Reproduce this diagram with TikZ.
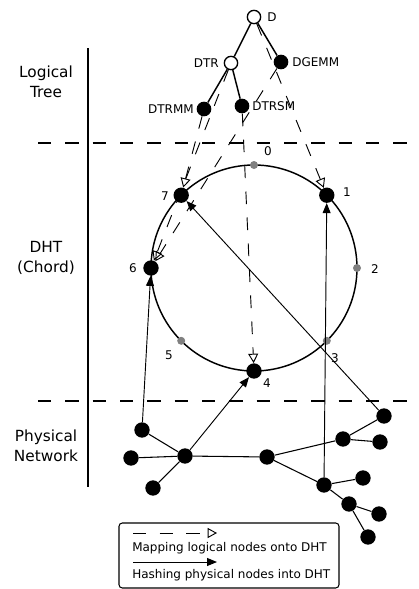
\documentclass[tikz,border=0pt]{standalone}
\usepackage{fontspec}
\setmainfont{DejaVu Sans}
\usetikzlibrary{arrows.meta}
\begin{document}
\begin{tikzpicture}[x=0.75pt,y=-0.75pt,
  opennode/.style={circle,draw,line width=1pt,fill=white,inner sep=0pt,minimum size=10pt},
  fullnode/.style={circle,fill=black,inner sep=0pt,minimum size=11pt},
  dhtnode/.style={circle,fill=black,inner sep=0pt,minimum size=11.5pt},
  greynode/.style={circle,fill=gray,inner sep=0pt,minimum size=6pt},
  physnode/.style={circle,fill=black,inner sep=0pt,minimum size=11.5pt},
  lbl/.style={font=\fontsize{9}{11}\selectfont,inner sep=0pt},
  sidelbl/.style={font=\fontsize{11.5}{15}\selectfont,align=center,inner sep=0pt},
  treeedge/.style={line width=1.1pt},
  mapping/.style={line width=0.7pt,dash pattern=on 9.5pt off 10pt,-{Triangle[open,length=7pt,width=7.5pt]}},
  hashing/.style={line width=0.7pt,-{Triangle[length=7.5pt,width=6pt]}},
  physedge/.style={line width=0.8pt},
  sep/.style={line width=2.2pt,dash pattern=on 10pt off 10.5pt},
]
\useasboundingbox (0,0) rectangle (418,589);

% separators
\draw[sep] (38,143) -- (418,143);
\draw[sep] (38,401) -- (418,401);
\draw[line width=1.1pt] (88,48) -- (88,487);

% side labels
\node[sidelbl] (ltree) at (46,82) {Logical\\Tree};
\node[sidelbl] (ldht) at (46,258) {DHT\\(Chord)};
\node[sidelbl] (lphys) at (46,446) {Physical\\Network};

% ring
\coordinate (c) at (254,268);
\draw[line width=1.1pt] (c) circle [radius=103];
\node[greynode] (r0) at (254,165) {};
\node[dhtnode] (r1) at (326.8,195.2) {};
\node[greynode] (r2) at (357,268) {};
\node[greynode] (r3) at (326.8,340.8) {};
\node[dhtnode] (r4) at (254,371) {};
\node[greynode] (r5) at (181.2,340.8) {};
\node[dhtnode] (r6) at (151,268) {};
\node[dhtnode] (r7) at (181.2,195.2) {};
\node[lbl] (t0) at (268,151) {0};
\node[lbl] (t1) at (347,192) {1};
\node[lbl] (t2) at (375,269) {2};
\node[lbl] (t3) at (335,358) {3};
\node[lbl] (t4) at (267,383) {4};
\node[lbl] (t5) at (169,355) {5};
\node[lbl] (t6) at (133,268) {6};
\node[lbl] (t7) at (165,196) {7};

% logical tree
\node[opennode] (D) at (254,17) {};
\node[opennode] (DTR) at (231,63) {};
\node[fullnode] (DGEMM) at (281,62) {};
\node[fullnode] (DTRMM) at (204,109) {};
\node[fullnode] (DTRSM) at (242,106) {};
\node[lbl,anchor=west] (tD) at (267,17) {D};
\node[lbl,anchor=east] (tDTR) at (219,63) {DTR};
\node[lbl,anchor=west] (tDGEMM) at (292,62) {DGEMM};
\node[lbl,anchor=east] (tDTRMM) at (194,109) {DTRMM};
\node[lbl,anchor=west] (tDTRSM) at (252,106) {DTRSM};
\draw[treeedge] (D) -- (DTR);
\draw[treeedge] (D) -- (DGEMM);
\draw[treeedge] (DTR) -- (DTRMM);
\draw[treeedge] (DTR) -- (DTRSM);

% mapping arrows
\draw[mapping] (D) -- (r1);
\draw[mapping] (DGEMM) -- (r6);
\draw[mapping] (DTR) -- (r6);
\draw[mapping] (DTRMM) -- (r7);
\draw[mapping] (DTRSM) -- (r4);

% physical network
\node[physnode] (pa) at (142,430) {};
\node[physnode] (pb) at (131,458) {};
\node[physnode] (pc) at (185,456) {};
\node[physnode] (pd) at (153,488) {};
\node[physnode] (pe) at (267,457) {};
\node[physnode] (pf) at (343,439) {};
\node[physnode] (pg) at (384,416) {};
\node[physnode] (ph) at (380,442) {};
\node[physnode] (pi) at (324,485) {};
\node[physnode] (pj) at (363,478) {};
\node[physnode] (pk) at (349,504) {};
\node[physnode] (pl) at (379,514) {};
\node[physnode] (pm) at (368,537) {};
\draw[physedge] (pa) -- (pc);
\draw[physedge] (pb) -- (pc);
\draw[physedge] (pd) -- (pc);
\draw[physedge] (pc) -- (pe);
\draw[physedge] (pe) -- (pf);
\draw[physedge] (pf) -- (pg);
\draw[physedge] (pf) -- (ph);
\draw[physedge] (pe) -- (pi);
\draw[physedge] (pi) -- (pj);
\draw[physedge] (pi) -- (pk);
\draw[physedge] (pk) -- (pl);
\draw[physedge] (pk) -- (pm);

% hashing arrows
\draw[hashing] (pa) -- (r6);
\draw[hashing] (pc) -- (r4);
\draw[hashing] (pi) -- (r1);
\draw[hashing] (pg) -- (r7);

% legend
\draw[line width=0.8pt,rounded corners=2.5pt] (119,523) rectangle (339,588);
\coordinate (lm1) at (133,533);
\coordinate (lm2) at (217,533);
\coordinate (lh1) at (133,562);
\coordinate (lh2) at (217,562);
\draw[mapping,dash pattern=on 10pt off 10pt] (lm1) -- (lm2);
\draw[hashing] (lh1) -- (lh2);
\node[lbl,anchor=west] (tm) at (132,548) {Mapping logical nodes onto DHT};
\node[lbl,anchor=west] (th) at (132,575) {Hashing physical nodes into DHT};
\end{tikzpicture}
\end{document}
